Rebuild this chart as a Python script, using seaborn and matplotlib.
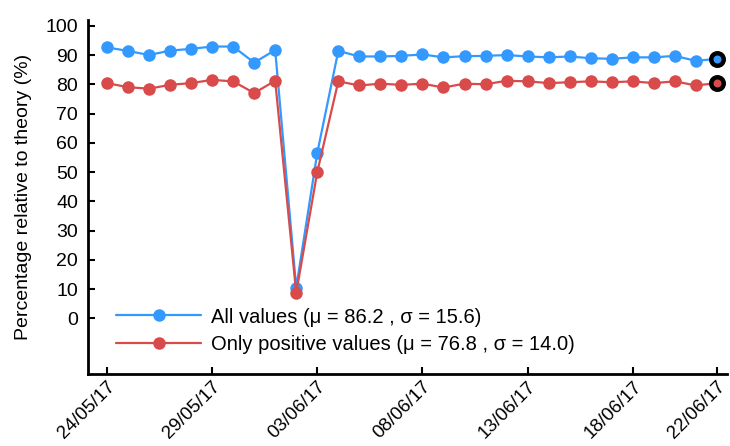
import matplotlib
matplotlib.use("Agg")
import matplotlib.pyplot as plt
import seaborn as sns
import pandas as pd
import numpy as np
from matplotlib.lines import Line2D

dates = pd.date_range("2017-05-24", "2017-06-22", freq="D")
all_values = [92.6, 91.4, 90.0, 91.5, 92.1, 92.9, 92.9, 87.4, 91.7, 10.5,
              56.5, 91.4, 89.5, 89.5, 89.7, 90.2, 89.2, 89.6, 89.7, 90.0,
              89.5, 89.2, 89.5, 88.9, 88.7, 89.2, 89.2, 89.7, 88.0, 88.7]
positive_values = [80.4, 79.0, 78.5, 79.8, 80.4, 81.5, 81.0, 77.0, 81.2, 8.7,
                   50.0, 81.0, 79.6, 80.2, 79.8, 80.2, 78.9, 80.2, 80.0, 81.2,
                   81.0, 80.4, 80.7, 81.0, 80.7, 81.0, 80.4, 81.0, 79.6, 80.4]
labels = ["All values (\u03bc = 86.2 , \u03c3 = 15.6)",
          "Only positive values (\u03bc = 76.8 , \u03c3 = 14.0)"]
tick_dates = ["2017-05-24", "2017-05-29", "2017-06-03", "2017-06-08",
              "2017-06-13", "2017-06-18", "2017-06-22"]
y_ticks = [0, 10, 20, 30, 40, 50, 60, 70, 80, 90, 100]
colors = ["#3399ff", "#d94a4a"]

sns.set_theme(style="ticks")
plt.rcParams['font.family'] = ['Liberation Sans', 'DejaVu Sans']
plt.rcParams['text.color'] = 'black'
plt.rcParams['axes.labelcolor'] = 'black'

fig = plt.figure(figsize=(7.3, 4.46), dpi=100)
ax = fig.add_axes([0.1205, 0.1614, 0.876, 0.794])

df = pd.DataFrame({"date": list(dates) * 2,
                   "value": all_values + positive_values,
                   "series": [labels[0]] * len(dates) + [labels[1]] * len(dates)})
sns.lineplot(data=df, x="date", y="value", hue="series", palette=colors,
             marker="o", markersize=9, linewidth=1.6, markeredgewidth=0,
             ax=ax, legend=False)

# highlighted last points
for vals, c in zip([all_values, positive_values], colors):
    ax.plot([dates[-1]], [vals[-1]], marker="o", markersize=9,
            markerfacecolor=c, markeredgecolor="black", markeredgewidth=3.2,
            linestyle="none", zorder=5)

handles = [Line2D([0], [0], color=c, lw=1.6, marker="o", markersize=9,
                  markeredgewidth=0) for c in colors]
leg = ax.legend(handles, labels, loc="lower left", bbox_to_anchor=(0.032, 0.035),
                frameon=False, fontsize=14.5, handlelength=4.2, handletextpad=0.5,
                labelspacing=0.4, borderaxespad=0)
for t in leg.get_texts():
    t.set_color("black")

ax.set_ylim(-19, 102)
ax.set_yticks(y_ticks)
ax.set_xlim(dates[0] - pd.Timedelta(days=0.9), dates[-1] + pd.Timedelta(days=0.5))
td = pd.to_datetime(tick_dates)
ax.set_xticks(td)
ax.set_xticklabels([d.strftime("%d/%m/%y") for d in td], rotation=45,
                   ha="right", rotation_mode="anchor")
ax.tick_params(direction="in", length=5, width=1.5, labelsize=14, pad=7,
               colors="black")
ax.tick_params(axis="x", labelsize=13.5, pad=3)
ax.set_ylabel("Percentage relative to theory (%)", fontsize=14, labelpad=10)
ax.set_xlabel("")
for s in ["top", "right"]:
    ax.spines[s].set_visible(False)
for s in ["left", "bottom"]:
    ax.spines[s].set_linewidth(2)
    ax.spines[s].set_color("black")

fig.savefig("out.png", dpi=100)
